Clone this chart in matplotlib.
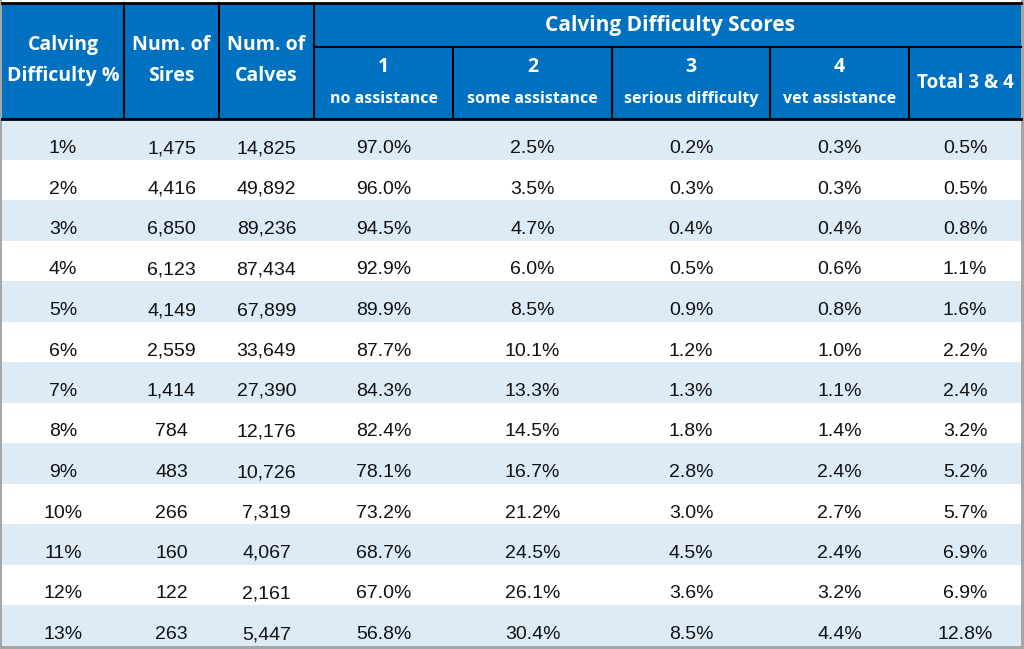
import matplotlib.pyplot as plt
from matplotlib.patches import Rectangle

# table contents
difficulty = ['1%', '2%', '3%', '4%', '5%', '6%', '7%', '8%', '9%', '10%', '11%', '12%', '13%']
num_sires = [1475, 4416, 6850, 6123, 4149, 2559, 1414, 784, 483, 266, 160, 122, 263]
num_calves = [14825, 49892, 89236, 87434, 67899, 33649, 27390, 12176, 10726, 7319, 4067, 2161, 5447]
score1 = [97.0, 96.0, 94.5, 92.9, 89.9, 87.7, 84.3, 82.4, 78.1, 73.2, 68.7, 67.0, 56.8]
score2 = [2.5, 3.5, 4.7, 6.0, 8.5, 10.1, 13.3, 14.5, 16.7, 21.2, 24.5, 26.1, 30.4]
score3 = [0.2, 0.3, 0.4, 0.5, 0.9, 1.2, 1.3, 1.8, 2.8, 3.0, 4.5, 3.6, 8.5]
score4 = [0.3, 0.3, 0.4, 0.6, 0.8, 1.0, 1.1, 1.4, 2.4, 2.7, 2.4, 3.2, 4.4]
total34 = [0.5, 0.5, 0.8, 1.1, 1.6, 2.2, 2.4, 3.2, 5.2, 5.7, 6.9, 6.9, 12.8]

main_headers = [['Calving', 'Difficulty %'], ['Num. of', 'Sires'], ['Num. of', 'Calves']]
group_header = 'Calving Difficulty Scores'
score_nums = ['1', '2', '3', '4']
score_names = ['no assistance', 'some assistance', 'serious difficulty', 'vet assistance']
total_header = 'Total 3 & 4'

# layout in pixels
W, H = 1024, 649
col_edges = [2, 124, 219, 314, 453, 612, 770, 909, 1021]
header_top, sub_line, header_bot = 3, 47, 119
row_h = 40.5

BLUE = '#0070C0'
BAND = '#DDEBF7'
HEAD_FONT = 'Open Sans'
DATA_FONT = 'Liberation Sans'

fig = plt.figure(figsize=(W / 100, H / 100), dpi=100)
ax = fig.add_axes([0, 0, 1, 1])
ax.set_xlim(0, W)
ax.set_ylim(H, 0)
ax.axis('off')

# outer grey frame
ax.add_patch(Rectangle((0, 0), W, H, facecolor='#A6A6A6', edgecolor='none'))
ax.add_patch(Rectangle((2, 0), 1019, 646, facecolor='white', edgecolor='none'))

# header background
ax.add_patch(Rectangle((2, header_top), 1019, header_bot - header_top, facecolor=BLUE, edgecolor='none'))

# banded rows
n = len(difficulty)
for i in range(n):
    y0 = header_bot + i * row_h
    if i % 2 == 0:
        ax.add_patch(Rectangle((2, y0), 1019, row_h, facecolor=BAND, edgecolor='none'))

# header lines
ax.plot([2, 1021], [header_top, header_top], color='black', lw=2)
ax.plot([2, 1021], [header_bot, header_bot], color='black', lw=2)
ax.plot([col_edges[3], 1021], [sub_line, sub_line], color='black', lw=1.5)
for j, x in enumerate(col_edges[1:-1]):
    top = header_top if j < 3 else sub_line
    ax.plot([x, x], [top, header_bot], color='black', lw=1.5)

def cx(j):
    return (col_edges[j] + col_edges[j + 1]) / 2

# header text
for j, (l1, l2) in enumerate(main_headers):
    ax.text(cx(j), 45, l1, ha='center', va='center', color='white', fontsize=14,
            fontweight='bold', family=HEAD_FONT)
    ax.text(cx(j), 76, l2, ha='center', va='center', color='white', fontsize=14,
            fontweight='bold', family=HEAD_FONT)

ax.text(670, 25, group_header, ha='center', va='center', color='white', fontsize=15,
        fontweight='bold', family=HEAD_FONT)
for k in range(4):
    ax.text(cx(3 + k), 67, score_nums[k], ha='center', va='center', color='white',
            fontsize=14, fontweight='bold', family=HEAD_FONT)
    ax.text(cx(3 + k), 99, score_names[k], ha='center', va='center', color='white',
            fontsize=11.5, fontweight='bold', family=HEAD_FONT)
ax.text(cx(7), 83, total_header, ha='center', va='center', color='white', fontsize=13.5,
        fontweight='bold', family=HEAD_FONT)

# body text, bottom aligned like the spreadsheet
for i in range(n):
    y = header_bot + i * row_h + 34
    cells = [difficulty[i], f'{num_sires[i]:,}', f'{num_calves[i]:,}',
             f'{score1[i]:.1f}%', f'{score2[i]:.1f}%', f'{score3[i]:.1f}%',
             f'{score4[i]:.1f}%', f'{total34[i]:.1f}%']
    for j, s in enumerate(cells):
        ax.text(cx(j), y, s, ha='center', va='baseline', color='#111111', fontsize=14,
                family=DATA_FONT)

fig.savefig('out.png', dpi=100)
